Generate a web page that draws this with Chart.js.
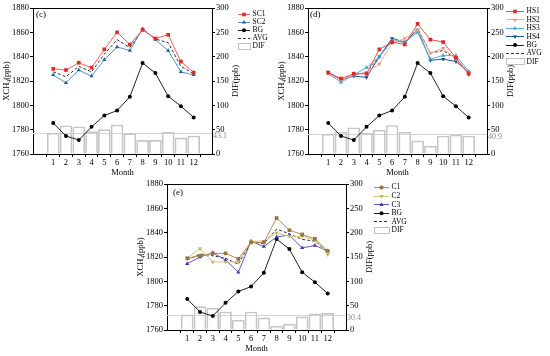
<!DOCTYPE html>
<html>
<head>
<meta charset="utf-8">
<script src="https://cdn.jsdelivr.net/npm/chart.js@4"></script>
<style>
html, body { margin: 0; padding: 0; background: #fff; }
body { width: 550px; height: 356px; position: relative; overflow: hidden; }
canvas { position: absolute; }
</style>
</head>
<body>
<canvas id="chartC" width="275" height="180" style="left:0;top:0"></canvas>
<canvas id="chartD" width="275" height="180" style="left:275px;top:0"></canvas>
<canvas id="chartE" width="275" height="180" style="left:134px;top:176px"></canvas>
<script>
// monthly XCH4 (ppb), DIF on the right axis
const months = [1, 2, 3, 4, 5, 6, 7, 8, 9, 10, 11, 12]
const bg = [1785.5, 1774.8, 1771.5, 1782.3, 1791.6, 1795.7, 1807, 1834.7, 1826.5, 1807.5, 1799.3, 1790]

// (c)
const sc1 = [1830, 1829, 1835, 1831, 1846, 1860, 1850, 1862, 1855, 1858, 1836, 1827]
const sc2 = [1825, 1818.5, 1829, 1824, 1837.5, 1848, 1845, 1863, 1854, 1845, 1827.5, 1825]
const scAvg = [1827.5, 1823.5, 1832, 1827.5, 1842, 1854, 1847.5, 1862.5, 1854.5, 1851.5, 1832, 1826]
const scDif = [43, 58, 56, 46, 50, 60, 42, 28, 28, 45, 33, 37]
const scMean = 43.1

// (d)
const hs1 = [1827, 1822, 1826, 1826, 1846, 1852, 1850, 1867, 1854, 1852, 1839, 1826]
const hs2 = [1826, 1821, 1825, 1827, 1834, 1851, 1855, 1862, 1843, 1847, 1838, 1825]
const hs3 = [1826, 1819, 1825, 1831, 1840, 1853, 1852, 1860, 1838, 1841, 1841, 1828]
const hs4 = [1827, 1821, 1824, 1823, 1840, 1855, 1852, 1862, 1837, 1838, 1836, 1827]
const hsAvg = [1826.5, 1821, 1825, 1827, 1840, 1853, 1852, 1863, 1843, 1845, 1838.5, 1826.5]
const hsDif = [41, 45, 54, 43, 49, 58.5, 45, 27, 16, 37, 39, 37]
const hsMean = 40.9

// (e)
const c1 = [1819, 1821, 1823, 1823, 1818.5, 1832, 1832, 1852, 1842, 1838.5, 1835, 1825]
const c2 = [1819, 1827, 1816, 1816, 1816, 1833, 1833, 1840, 1837, 1837, 1834, 1822]
const c3 = [1814.5, 1820, 1823.5, 1817.5, 1807.5, 1833, 1828.5, 1836.5, 1838, 1827.5, 1829.5, 1825]
const cAvg = [1817.5, 1822.5, 1821, 1819, 1814, 1832.5, 1831, 1843, 1839, 1834.5, 1833, 1824]
const cDif = [31, 48, 45, 37, 20, 37, 25, 8, 12, 27, 33, 34]
const cMean = 30.4

const FONT = "'Liberation Serif', 'Times New Roman', serif"

const pts = vals => months.map((m, i) => ({x: m, y: vals[i]}))

function lineSet(label, vals, lineColor, markColor, style, rot){
    return {
        type: 'line', label, data: pts(vals), yAxisID: 'y', order: 1,
        borderColor: lineColor, borderWidth: 1,
        pointBackgroundColor: markColor, pointBorderColor: markColor, pointBorderWidth: 0,
        pointStyle: style, pointRotation: rot || 0,
        pointRadius: style === 'rect' ? 2.6 : (style === 'circle' ? 2 : 2.4),
        pointHoverRadius: 0,
        markColor
    }
}
function bgSet(){
    return lineSet('BG', bg, '#222', '#000', 'circle')
}
function avgSet(vals){
    return {type: 'line', label: 'AVG', data: pts(vals), yAxisID: 'y', order: 2,
        borderColor: '#333', borderWidth: 1, borderDash: [3, 2], pointRadius: 0, pointHoverRadius: 0}
}
function difSet(vals){
    return {type: 'bar', label: 'DIF', data: pts(vals), yAxisID: 'y1', order: 10,
        backgroundColor: 'rgba(0,0,0,0)', borderColor: '#c6c6c6', borderWidth: 1,
        barThickness: 12}
}

// own marker so the legend looks like the plot
function mark(ctx, ds, x, y){
    const r = ds.pointRadius
    ctx.save()
    ctx.fillStyle = ds.markColor
    ctx.beginPath()
    if (ds.pointStyle === 'rect'){
        const s = r * Math.SQRT1_2
        ctx.rect(x - s, y - s, 2 * s, 2 * s)
    } else if (ds.pointStyle === 'triangle'){
        const d = ds.pointRotation ? -1 : 1
        ctx.moveTo(x, y - d * r)
        ctx.lineTo(x - r * 0.87, y + d * r * 0.5)
        ctx.lineTo(x + r * 0.87, y + d * r * 0.5)
        ctx.closePath()
    } else {
        ctx.arc(x, y, r, 0, Math.PI * 2)
    }
    ctx.fill()
    ctx.restore()
}

const panelPlugin = {
    id: 'panel',
    beforeDatasetsDraw(chart, args, o){
        const ctx = chart.ctx
        const {left, right} = chart.chartArea
        const y = Math.round(chart.scales.y1.getPixelForValue(o.mean)) + 0.5
        ctx.save()
        ctx.strokeStyle = '#d4d4d4'
        ctx.lineWidth = 1
        ctx.beginPath()
        ctx.moveTo(left, y)
        ctx.lineTo(right, y)
        ctx.stroke()
        ctx.restore()
    },
    afterDraw(chart, args, o){
        const ctx = chart.ctx
        const {left, right, top, bottom} = chart.chartArea
        ctx.save()
        // top of the frame
        ctx.strokeStyle = '#000'
        ctx.lineWidth = 1
        ctx.beginPath()
        ctx.moveTo(left, top + 0.5)
        ctx.lineTo(right, top + 0.5)
        ctx.stroke()

        // mean label
        const my = chart.scales.y1.getPixelForValue(o.mean)
        ctx.fillStyle = '#8a8a8a'
        ctx.font = '8px ' + FONT
        ctx.textBaseline = 'middle'
        ctx.textAlign = 'left'
        ctx.fillText(o.mean.toFixed(1), right + 1, my + 3)

        // panel tag
        ctx.fillStyle = '#000'
        ctx.font = '9px ' + FONT
        ctx.fillText(o.tag, left + o.tagDx, top + o.tagDy)

        // right axis title
        ctx.save()
        ctx.translate(right + 24, (top + bottom) / 2)
        ctx.rotate(-Math.PI / 2)
        ctx.textAlign = 'center'
        ctx.font = '8.5px ' + FONT
        ctx.fillText('DIF(ppb)', 0, 0)
        ctx.restore()

        // legend
        ctx.font = '7.5px ' + FONT
        chart.data.datasets.forEach((ds, i) => {
            const y = o.legY + i * o.legDy
            const x0 = o.legX, x1 = o.legX + o.legW
            if (ds.type === 'bar'){
                ctx.strokeStyle = '#c0c0c0'
                ctx.setLineDash([])
                ctx.strokeRect(x0 + 0.5, Math.round(y - 3) + 0.5, o.legW, 6)
            } else {
                ctx.strokeStyle = ds.borderColor
                ctx.setLineDash(ds.borderDash || [])
                ctx.beginPath()
                ctx.moveTo(x0, Math.round(y) + 0.5)
                ctx.lineTo(x1, Math.round(y) + 0.5)
                ctx.stroke()
                ctx.setLineDash([])
                if (ds.pointRadius > 0) mark(ctx, ds, (x0 + x1) / 2, y + 0.5)
            }
            ctx.fillStyle = '#000'
            ctx.textBaseline = 'middle'
            ctx.fillText(ds.label, x1 + 2.5, y + 0.5)
        })
        ctx.restore()
    }
}

function axes(){
    const tickFont = {family: FONT, size: 8.5}
    return {
        x: {
            type: 'linear', min: 0, max: 12.85,
            afterFit: s => { s.height = 26 },
            afterBuildTicks: s => { s.ticks = months.map(v => ({value: v})) },
            ticks: {autoSkip: false, maxRotation: 0, minRotation: 0, padding: 1,
                color: '#000', font: tickFont, callback: v => String(v)},
            grid: {drawOnChartArea: false, tickLength: 3, color: '#000'},
            border: {color: '#000'},
            title: {display: true, text: 'Month', color: '#000', font: {family: FONT, size: 8.5}, padding: 2}
        },
        y: {
            position: 'left', min: 1760, max: 1880,
            afterFit: s => { s.width = 33 },
            ticks: {stepSize: 20, padding: 1, color: '#000', font: tickFont, callback: v => String(v)},
            grid: {drawOnChartArea: false, tickLength: 3, color: '#000'},
            border: {color: '#000'},
            title: {display: true, text: 'XCH₄(ppb)', color: '#000', font: {family: FONT, size: 8.5}, padding: 2}
        },
        y1: {
            position: 'right', min: 0, max: 300,
            afterFit: s => { s.width = 30 },
            ticks: {stepSize: 50, padding: 1, color: '#000', font: tickFont, callback: v => String(v)},
            grid: {drawOnChartArea: false, tickLength: 3, color: '#000'},
            border: {color: '#000'}
        }
    }
}

function makePanel(id, datasets, opts){
    return new Chart(document.getElementById(id), {
        type: 'bar',
        data: {datasets},
        options: {
            responsive: false,
            animation: false,
            devicePixelRatio: 1,
            events: [],
            layout: {padding: {top: 8, left: 0, right: 33, bottom: 0}},
            scales: axes(),
            plugins: {legend: {display: false}, tooltip: {enabled: false}, panel: opts}
        },
        plugins: [panelPlugin]
    })
}

makePanel('chartC', [
    lineSet('SC1', sc1, '#f26060', '#e42a22', 'rect'),
    lineSet('SC2', sc2, '#4f93cf', '#1f5f9f', 'triangle'),
    bgSet(),
    avgSet(scAvg),
    difSet(scDif)
], {mean: scMean, tag: '(c)', tagDx: 3, tagDy: 7, legX: 238, legW: 12, legY: 14, legDy: 7.9})

makePanel('chartD', [
    lineSet('HS1', hs1, '#f05050', '#e02828', 'rect'),
    lineSet('HS2', hs2, '#f8a890', '#f4907a', 'triangle', 180),
    lineSet('HS3', hs3, '#58b0e0', '#3aa0d8', 'triangle'),
    lineSet('HS4', hs4, '#1e5a98', '#184d88', 'triangle', 180),
    bgSet(),
    avgSet(hsAvg),
    difSet(hsDif)
], {mean: hsMean, tag: '(d)', tagDx: 2, tagDy: 7, legX: 231, legW: 18, legY: 11, legDy: 8.4})

makePanel('chartE', [
    lineSet('C1', c1, '#b88a5a', '#9a7440', 'rect'),
    lineSet('C2', c2, '#d2c676', '#c0b45c', 'triangle', 180),
    lineSet('C3', c3, '#5a5ac0', '#3c3cb0', 'triangle'),
    bgSet(),
    avgSet(cAvg),
    difSet(cDif)
], {mean: cMean, tag: '(e)', tagDx: 6, tagDy: 9, legX: 240, legW: 15, legY: 11, legDy: 8.6})
</script>
</body>
</html>
